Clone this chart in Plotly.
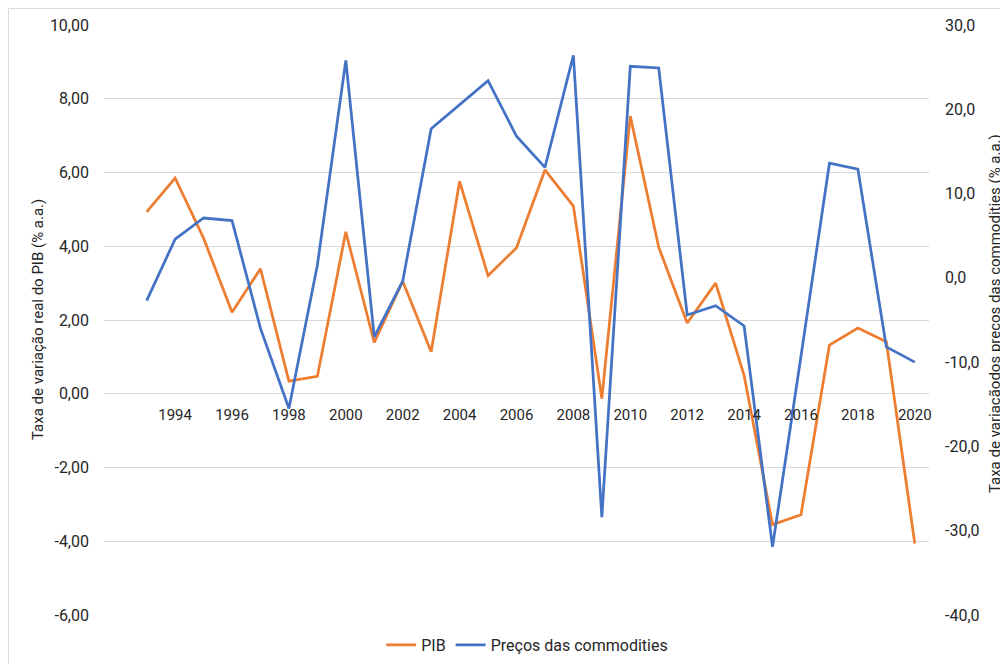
import plotly.graph_objects as go

# Brasil: crescimento do PIB x preços das commodities
years = list(range(1993, 2021))
pib = [4.93, 5.85, 4.22, 2.21, 3.39, 0.34, 0.47, 4.39, 1.39, 3.05,
       1.14, 5.76, 3.20, 3.96, 6.07, 5.09, -0.13, 7.53, 3.97, 1.92,
       3.00, 0.50, -3.55, -3.28, 1.32, 1.78, 1.41, -4.06]
commodities = [-2.7, 4.6, 7.1, 6.8, -6.0, -15.5, 1.5, 25.8, -7.0, -0.4,
               17.7, 20.5, 23.4, 16.8, 13.1, 26.4, -28.4, 25.1, 24.9, -4.4,
               -3.3, -5.7, -31.9, -9.3, 13.6, 12.9, -8.2, -10.0]
year_ticks = years[1::2]
pib_ticks = [-6, -4, -2, 0, 2, 4, 6, 8, 10]
comm_ticks = [-40, -30, -20, -10, 0, 10, 20, 30]

ORANGE = "#ED7D31"
BLUE = "#4472C4"
GRID = "#D9D9D9"
TEXT = "#262626"
FONT = "Roboto"


def br(value, decimals):
    # Excel-style label: decimal comma, plain hyphen for negatives
    return f"{value:.{decimals}f}".replace(".", ",")


fig = go.Figure()
fig.add_trace(go.Scatter(x=years, y=pib, name="PIB", mode="lines",
                         line=dict(color=ORANGE, width=2.75)))
fig.add_trace(go.Scatter(x=years, y=commodities, name="Preços das commodities",
                         mode="lines", yaxis="y2",
                         line=dict(color=BLUE, width=2.75)))

# the page body adds 8px, so the figure is 8px smaller than the window
fig.update_layout(
    width=1000, height=656,
    margin=dict(l=96, r=79, t=17, b=49, autoexpand=False),
    paper_bgcolor="white", plot_bgcolor="white",
    separators=",.",
    font=dict(family=FONT, size=15, color=TEXT),
    showlegend=True,
    legend=dict(orientation="h", x=0.513, xanchor="center", y=-0.051,
                yanchor="middle", font=dict(size=16), bgcolor="rgba(0,0,0,0)"),
    xaxis=dict(range=[1991.5, 2020.5], tickvals=year_ticks,
               ticktext=[str(y) for y in year_ticks],
               anchor="free", position=0.375, showgrid=False,
               zeroline=False, showline=False, ticks="",
               ticklabelstandoff=10, tickfont=dict(size=15)),
    yaxis=dict(range=[-6, 10], tickvals=pib_ticks,
               ticktext=[br(v, 2) for v in pib_ticks],
               showgrid=True, gridcolor=GRID, gridwidth=1,
               zeroline=False, showline=False, ticks="",
               ticklabelstandoff=14, tickfont=dict(size=16)),
    yaxis2=dict(range=[-40, 30], tickvals=comm_ticks,
                ticktext=[br(v, 1) for v in comm_ticks],
                overlaying="y", side="right", showgrid=False,
                zeroline=False, showline=False, ticks="",
                ticklabelstandoff=15, tickfont=dict(size=16)),
)

fig.add_annotation(text="Taxa de variação real do PIB (% a.a.)",
                   xref="paper", yref="paper", x=-0.08, y=0.5,
                   textangle=-90, showarrow=False, xanchor="center",
                   yanchor="middle",
                   font=dict(family="Liberation Sans Narrow, " + FONT,
                             size=15, color=TEXT))
fig.add_annotation(text="Taxa de variaçãodos preços das commodities (% a.a.)",
                   xref="paper", yref="paper", x=1.08, y=0.51,
                   textangle=-90, showarrow=False, xanchor="center",
                   yanchor="middle", font=dict(size=15, color=TEXT))

fig.add_shape(type="rect", xref="paper", yref="paper",
              x0=-0.1158, x1=1.12, y0=-0.1, y1=1.028,
              line=dict(color=GRID, width=1), layer="below")

fig.write_html("out.html")
